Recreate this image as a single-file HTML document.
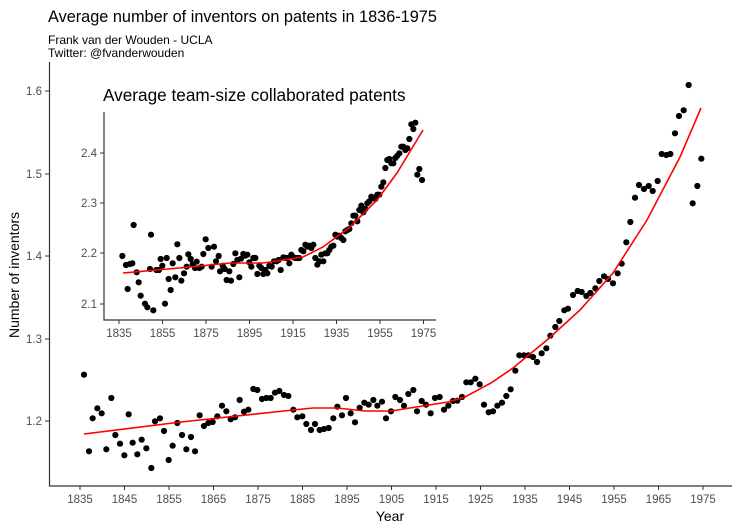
<!DOCTYPE html><html><head><style>body{margin:0;background:#fff}svg{display:block;font-family:"Liberation Sans",sans-serif}</style></head><body>
<svg id="s" width="740" height="529" xmlns="http://www.w3.org/2000/svg">
<rect width="740" height="529" fill="#fff"/>
<text x="48" y="22" font-size="16.3" fill="#000">Average number of inventors on patents in 1836-1975</text>
<text x="48" y="44" font-size="12" fill="#000">Frank van der Wouden - UCLA</text>
<text x="48" y="57" font-size="12" fill="#000">Twitter: @fvanderwouden</text>
<g stroke="#333" stroke-width="1.2" fill="none">
<path d="M49.5,62V486H732"/>
<path d="M104,112V320H436"/>
</g>
<g id="ticks" stroke="#333" stroke-width="1"></g>
<g id="lbl" font-size="11.5" fill="#4d4d4d"></g>
<text x="390" y="521" font-size="14" text-anchor="middle">Year</text>
<text transform="translate(19,275) rotate(-90)" font-size="14" text-anchor="middle">Number of inventors</text>
<text x="103" y="101" font-size="17.2">Average team-size collaborated patents</text>
<g id="pts" fill="#000"></g>
<path id="c1" fill="none" stroke="#f00" stroke-width="1.6"/>
<path id="c2" fill="none" stroke="#f00" stroke-width="1.6"/>
</svg>
<script>
const NS="http://www.w3.org/2000/svg";
function el(p,t,a,txt){const e=document.createElementNS(NS,t);for(const k in a)e.setAttribute(k,a[k]);if(txt)e.textContent=txt;document.getElementById(p).appendChild(e);}
for(let i=0;i<15;i++){const x=80+i*44.5;el("ticks","line",{x1:x,x2:x,y1:486,y2:490});el("lbl","text",{x:x,y:503,"text-anchor":"middle"},String(1835+i*10));}
[[1.6,91],[1.5,174],[1.4,256],[1.3,339],[1.2,421]].forEach(([v,y])=>{el("ticks","line",{x1:45,x2:49.5,y1:y,y2:y});el("lbl","text",{x:42,y:y+4,"text-anchor":"end"},v.toFixed(1));});
for(let i=0;i<8;i++){const x=119+i*43.5;el("ticks","line",{x1:x,x2:x,y1:320,y2:324});el("lbl","text",{x:x,y:337,"text-anchor":"middle"},String(1835+i*20));}
[[2.4,153],[2.3,203],[2.2,253],[2.1,304]].forEach(([v,y])=>{el("ticks","line",{x1:100,x2:104,y1:y,y2:y});el("lbl","text",{x:97,y:y+4,"text-anchor":"end"},v.toFixed(1));});
const z1=[[108,104],[123,334],[134,235],[148,205],[161,220],[175,328],[190,174],[202,285],[216,311],[229,346],[242,223],[254,308],[268,343],[281,299],[295,325],[310,384],[321,244],[336,235],[348,273],[362,360],[374,317],[388,249],[402,285],[415,328],[429,291],[441,334],[455,226],[468,258],[481,249],[494,246],[508,229],[522,197],[535,214],[548,238],[561,232],[575,180],[588,215],[601,209],[616,147],[628,150],[642,177],[655,174],[668,174],[681,158],[694,153],[708,165],[721,168],[736,209],[748,232],[763,229],[775,252],[789,270],[801,252],[815,270],[828,267],[842,264],[856,235],[868,200],[882,226],[894,174],[908,220],[921,247],[935,203],[949,188],[962,194],[976,180],[988,197],[1002,185],[1014,235],[1029,214],[1042,171],[1056,180],[1068,197],[1081,162],[1096,150],[1107,214],[1121,183],[1134,194],[1148,220],[1161,174],[1175,171],[1188,209],[1201,197],[1215,183],[1228,182],[1242,171],[1255,127],[1268,127],[1282,116],[1295,133],[1308,194],[1322,217],[1335,214],[1348,197],[1362,188],[1375,168],[1388,148],[1402,92],[1414,46],[1428,46]];
const z2=[[145,856],[159,861],[171,876],[185,850],[199,835],[211,797],[226,771],[238,753],[253,721],[264,716],[279,675],[293,663],[305,666],[319,678],[331,669],[346,655],[358,633],[372,619],[384,627],[399,640],[413,610],[425,581],[439,517],[451,456],[465,383],[477,345],[492,357],[506,348],[518,363],[533,333],[545,252],[559,255],[571,252],[585,190],[597,138],[611,121],[626,45],[638,400],[652,348],[664,266]];
const z3=[[97,468],[108,495],[113,567],[120,492],[127,490],[131,375],[140,517],[146,547],[152,587],[165,611],[172,622],[180,507],[183,404],[190,631],[199,510],[207,510],[212,477],[217,497],[225,611],[230,474],[236,537],[242,570],[248,490],[256,532],[262,433],[268,474],[274,542],[282,520],[290,500],[295,463],[302,477],[308,493],[315,504],[320,485],[328,504],[335,500],[340,462],[347,418],[355,444],[365,500],[372,440],[378,484],[386,468],[390,514],[398,497],[404,507],[410,540],[418,514],[423,542],[430,492],[436,460],[442,480],[448,532],[453,476],[460,462],[466,467],[472,464],[478,487],[484,500],[490,474],[496,474],[502,522],[508,497],[514,504],[520,522],[526,510],[532,520],[538,497],[545,500],[552,484],[560,484],[566,480],[572,510],[580,472],[586,474],[592,474],[598,490],[604,464],[610,472],[616,474],[622,474],[628,474],[634,450],[640,454],[646,434],[652,440],[658,437],[664,444],[670,434],[676,474],[682,494],[688,484],[694,464],[700,484],[706,460],[712,460],[718,450],[724,440],[730,437],[736,404],[742,410],[748,407],[754,414],[760,420],[766,394],[772,390],[778,387],[784,370],[790,347],[796,347],[802,364],[808,330],[814,317],[820,337],[826,327],[832,310],[838,304],[844,290],[850,294],[856,297],[862,284],[868,284],[874,260],[880,247],[886,204],[892,180],[898,177],[904,190],[910,190],[916,174],[922,167],[928,160],[934,140],[940,140],[946,150],[952,145],[958,117],[964,73],[970,87],[976,68],[982,224],[988,207],[996,240]];
z1.forEach(p=>el("pts","circle",{cx:48+p[0]/3,cy:340+p[1]/3,r:3.1}));
z2.forEach(p=>el("pts","circle",{cx:480+p[0]/3,cy:70+p[1]/3,r:3.1}));
z3.forEach(p=>el("pts","circle",{cx:90+p[0]/3,cy:100+p[1]/3,r:3.1}));
const c1=[[84,434],[181,422],[293,410],[313,408],[337,408],[365,411],[391,411],[448,402],[465,397],[491,383],[513,368],[547,340],[580,310],[613,273],[647,220],[680,157],[701,108]];
const c2=[[123,273],[190,267],[230,263],[263,263],[303,257],[323,247],[350,227],[377,200],[397,173],[423,130]];
function pth(a){return "M"+a.map(p=>p.join(",")).join("L");}
document.getElementById("c1").setAttribute("d",pth(c1));
document.getElementById("c2").setAttribute("d",pth(c2));
</script>
</body></html>
